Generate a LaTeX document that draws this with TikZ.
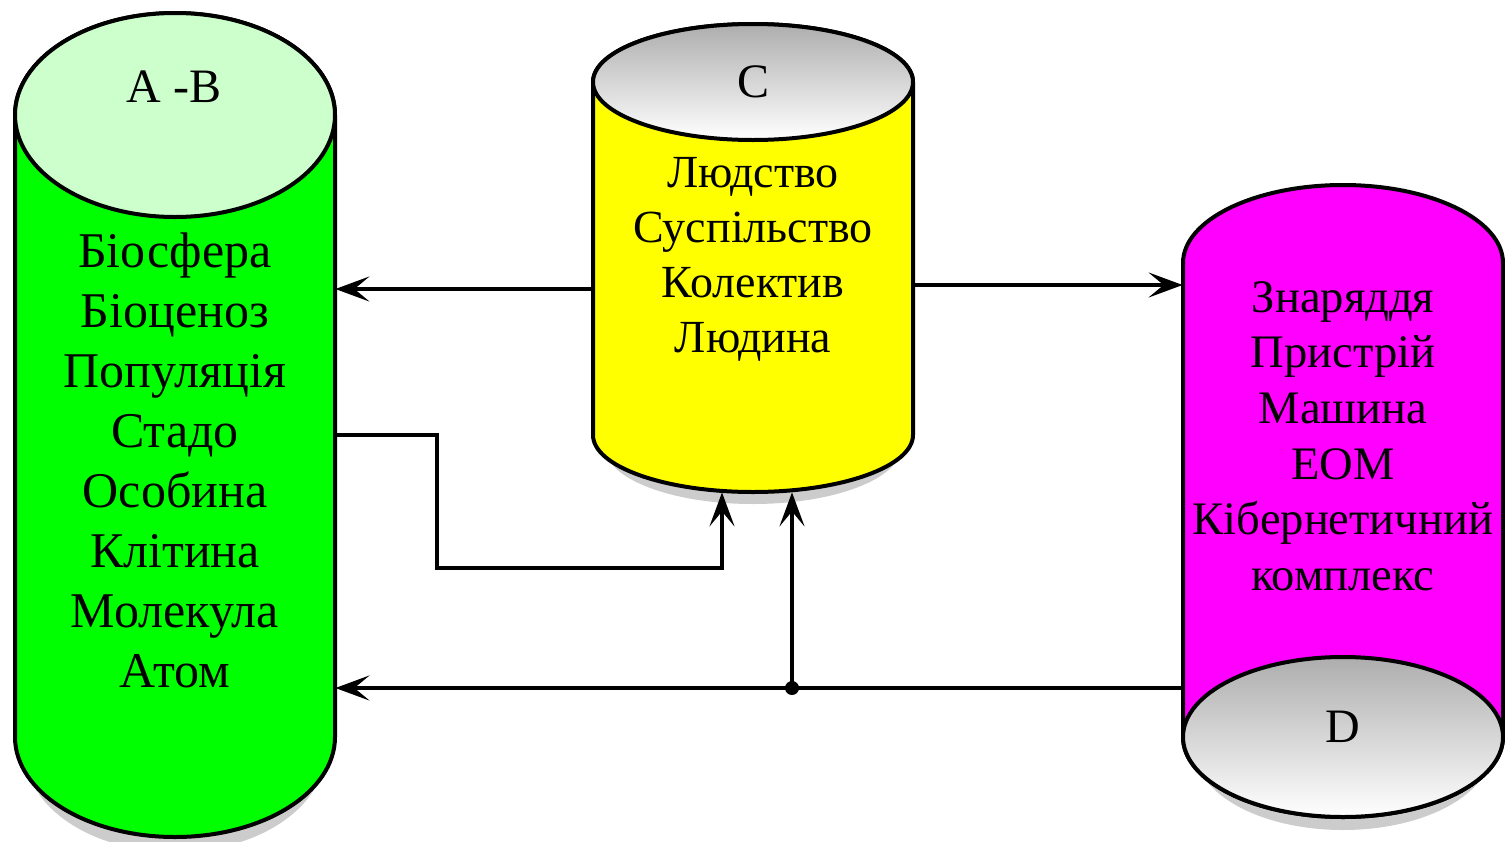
\documentclass[tikz,border=0pt]{standalone}
\usepackage{fontspec}
\setmainfont{Liberation Serif}
\usetikzlibrary{arrows.meta}
\definecolor{cgreen}{RGB}{0,255,0}
\definecolor{lgreen}{RGB}{204,255,204}
\definecolor{cyellow}{RGB}{255,255,0}
\definecolor{cmagenta}{RGB}{255,0,255}
\begin{document}
\begin{tikzpicture}[x=0.5pt,y=-0.5pt,
  cyl/.style={line width=2pt, draw=black},
  conn/.style={line width=2pt, -{Stealth[length=17pt,width=12.5pt,inset=7.5pt]}},
  body/.style={inner sep=0pt, minimum width=160pt, draw=none},
  lbl/.style={inner sep=0pt, font=\fontsize{24}{27}\selectfont},
  txt/.style={align=center, inner sep=0pt},
  shadowfill/.style={fill=gray!40, draw=none},
  capface/.style={cyl, top color=black!32, bottom color=white}
]
\useasboundingbox (0,0) rectangle (1505,841);

% shadows
\fill[shadowfill] (175,752) ellipse [x radius=75pt, y radius=50pt];
\fill[shadowfill] (753,447) ellipse [x radius=74pt, y radius=28.5pt];
\fill[shadowfill] (1343,750) ellipse [x radius=74pt, y radius=40pt];

% green cylinder
\filldraw[cyl, fill=cgreen] (15,115) -- (15,737)
  arc[start angle=180,end angle=360,x radius=80pt,y radius=50pt]
  -- (335,115)
  arc[start angle=0,end angle=180,x radius=80pt,y radius=51pt] -- cycle;
\filldraw[cyl, fill=lgreen] (175,115) ellipse [x radius=80pt, y radius=51pt];

% yellow cylinder
\filldraw[cyl, fill=cyellow] (593,82) -- (593,435)
  arc[start angle=180,end angle=360,x radius=80pt,y radius=28.5pt]
  -- (913,82)
  arc[start angle=0,end angle=180,x radius=80pt,y radius=29pt] -- cycle;
\draw[capface] (753,82) ellipse [x radius=80pt, y radius=29pt];

% magenta cylinder
\filldraw[cyl, fill=cmagenta] (1183,263) -- (1183,737)
  arc[start angle=180,end angle=360,x radius=80pt,y radius=40pt]
  -- (1503,263)
  arc[start angle=0,end angle=180,x radius=80pt,y radius=39pt] -- cycle;
\draw[capface] (1343,737) ellipse [x radius=80pt, y radius=40pt];

% invisible body nodes
\node[body, minimum height=412pt] (G) at (175,425) {};
\node[body, minimum height=234pt] (Y) at (753,258) {};
\node[body, minimum height=316pt] (M) at (1343,501) {};

% labels
\node[lbl] (ab) at (174,87) {A -B};
\node[lbl] (c) at (753,82) {C};
\node[lbl] (d) at (1343,727) {D};

% texts
\node[txt, font=\fontsize{25}{30}\selectfont] (gt) at (175,460)
  {Біосфера\\Біоценоз\\Популяція\\Стадо\\Особина\\Клітина\\Молекула\\Атом};
\node[txt, font=\fontsize{23}{27.5}\selectfont] (yt) at (753,259)
  {Людство\\Суспільство\\Колектив\\Людина};
\node[txt, font=\fontsize{23.3}{27.8}\selectfont] (mt) at (1343,436)
  {Знаряддя\\Пристрій\\Машина\\ЕОМ\\Кібернетичний\\комплекс};

% helper levels
\coordinate (r1) at (0,289);
\coordinate (r2) at (0,285);
\coordinate (r3) at (0,435);
\coordinate (r4) at (0,568);
\coordinate (c1) at (437,0);
\coordinate (c2) at (722,0);
\node[circle, fill=black, inner sep=0pt, minimum size=7pt] (J) at (792,688) {};

% connectors
\draw[conn] (Y.west |- r1) -- (G.east |- r1);
\draw[conn] (Y.east |- r2) -- (M.west |- r2);
\draw[conn] (G.east |- r3) -| (c1 |- r4) -| (c2 |- Y.south);
\draw[conn] (M.west |- J) -- (G.east |- J);
\draw[conn] (J.center) -- (J |- Y.south);
\end{tikzpicture}
\end{document}
